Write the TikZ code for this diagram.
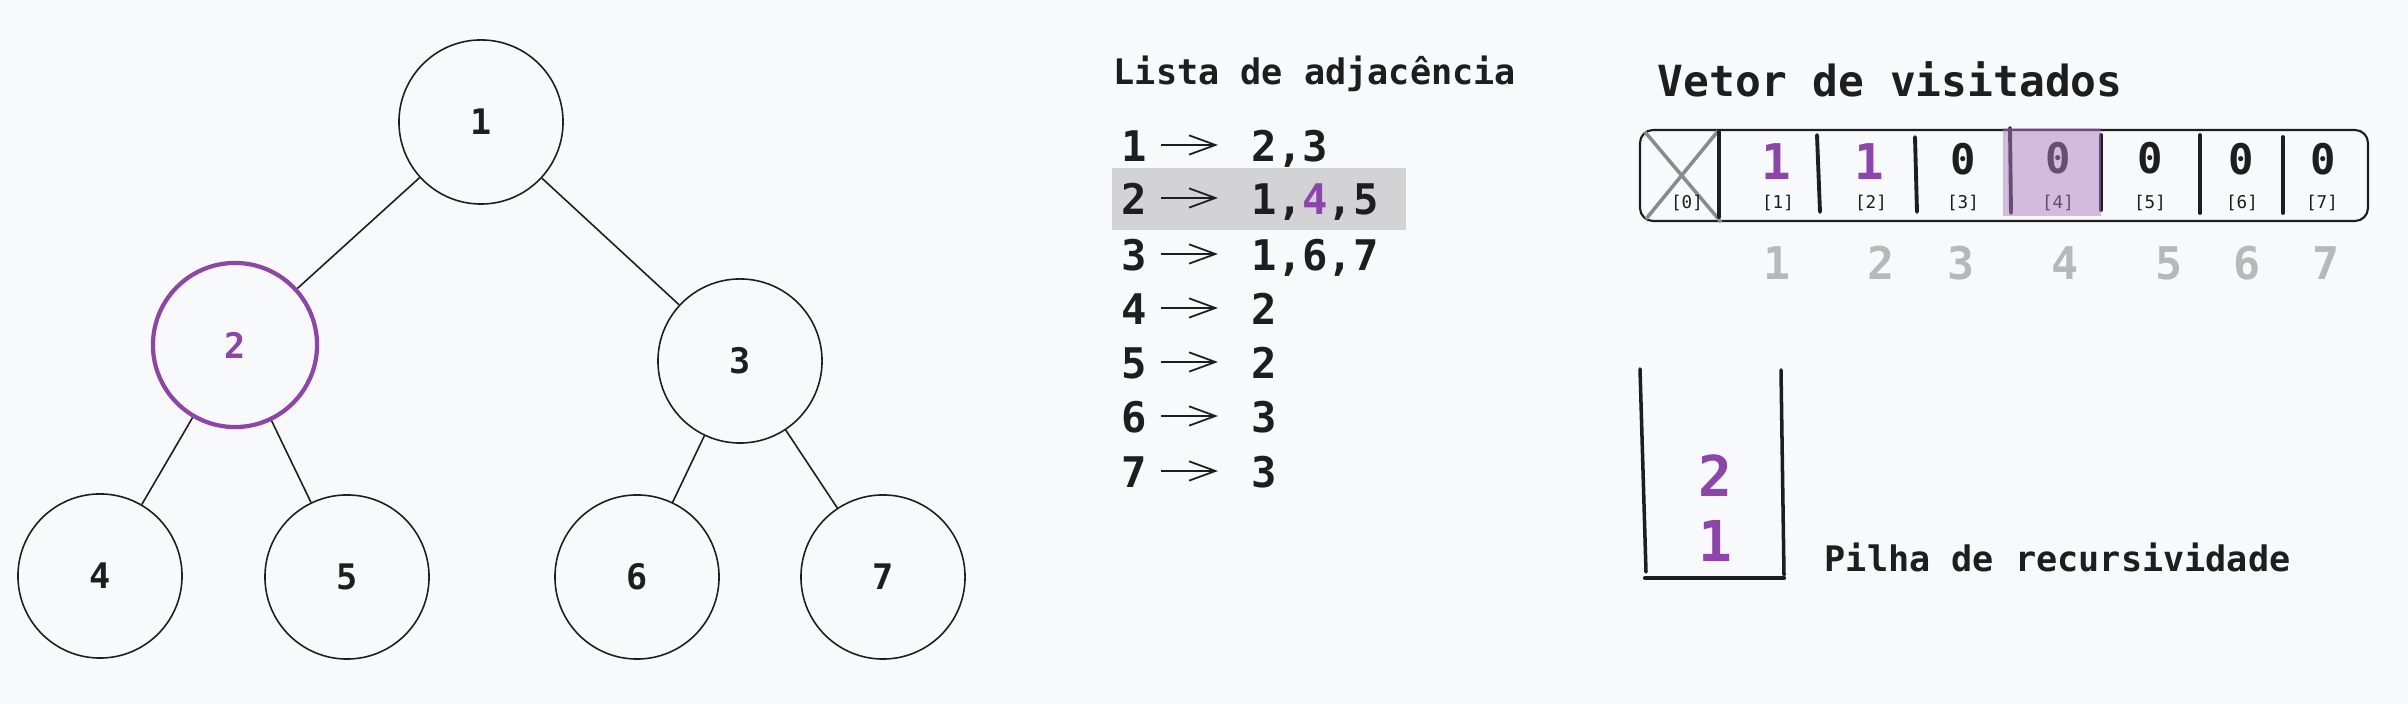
\documentclass[tikz,border=0pt]{standalone}
\usepackage{fontspec}
\setmainfont{DejaVu Sans Mono}
\usetikzlibrary{arrows.meta}

\definecolor{paper}{HTML}{F8F9FA}
\definecolor{ink}{HTML}{1E1E1E}
\definecolor{visitpurple}{HTML}{8E44AD}
\definecolor{cellpurple}{HTML}{B07CC6}
\definecolor{rowgray}{HTML}{D3D3D6}
\definecolor{idxgray}{HTML}{B8B8B8}
\definecolor{crossgray}{HTML}{8A8A8A}

\begin{document}
\begin{tikzpicture}[x=0.01cm, y=-0.01cm,
	vertex/.style={circle, draw=ink, line width=0.45pt, minimum size=1.64cm, inner sep=0pt, text=ink, font=\fontsize{10}{12}\selectfont\bfseries},
	visited/.style={vertex, draw=visitpurple, line width=1.2pt, text=visitpurple},
	edge/.style={draw=ink, line width=0.45pt},
	title/.style={anchor=base west, inner sep=0pt, text=ink},
	listkey/.style={inner sep=0pt, text height=9.6pt, text depth=0pt, text=ink, font=\fontsize{12}{14}\selectfont\bfseries},
	listval/.style={listkey, anchor=west},
	adjarrow/.style={draw=ink, line width=0.5pt, -{Straight Barb[length=7.5pt,width=5.5pt]}, shorten <=0.14cm, shorten >=0.33cm},
	cellval/.style={anchor=base, inner sep=0pt, text=ink, font=\fontsize{12}{14}\selectfont\bfseries},
	cellone/.style={cellval, text=visitpurple, font=\fontsize{14}{16}\selectfont\bfseries},
	cellidx/.style={anchor=base, inner sep=0pt, text=ink, font=\fontsize{5}{6}\selectfont},
	cellnum/.style={anchor=base, inner sep=0pt, text=idxgray, font=\fontsize{12.8}{15}\selectfont\bfseries},
	divider/.style={draw=ink, line width=1.1pt, line cap=round},
	stackitem/.style={anchor=base, inner sep=0pt, text=visitpurple, font=\fontsize{16}{18}\selectfont\bfseries}]

	\useasboundingbox (0,0) rectangle (2408,704);
	\fill[paper] (0,0) rectangle (2408,704);

	% tree
	\node[vertex] (n1) at (481,122) {1};
	\node[visited] (n2) at (235,345) {2};
	\node[vertex] (n3) at (740,361) {3};
	\node[vertex] (n4) at (100,576) {4};
	\node[vertex] (n5) at (347,577) {5};
	\node[vertex] (n6) at (637,577) {6};
	\node[vertex] (n7) at (883,577) {7};

	\draw[edge] (n1) -- (n2);
	\draw[edge] (n1) -- (n3);
	\draw[edge] (n2) -- (n4);
	\draw[edge] (n2) -- (n5);
	\draw[edge] (n3) -- (n6);
	\draw[edge] (n3) -- (n7);

	% adjacency list
	\node[title, font=\fontsize{10}{12}\selectfont\bfseries] (adjtitle) at (1113,85) {Lista de adjacência};
	\fill[rowgray] (1112,168) rectangle (1406,230);

	\node[listkey] (k1) at (1134,145) {1};
	\node[listkey] (k2) at (1134,198) {2};
	\node[listkey] (k3) at (1134,254) {3};
	\node[listkey] (k4) at (1134,308) {4};
	\node[listkey] (k5) at (1134,362) {5};
	\node[listkey] (k6) at (1134,416) {6};
	\node[listkey] (k7) at (1134,471) {7};

	\node[listval] (v1) at (1251,145) {2,3};
	\node[listval] (v2) at (1251,198) {1,{\color{visitpurple}4},5};
	\node[listval] (v3) at (1251,254) {1,6,7};
	\node[listval] (v4) at (1251,308) {2};
	\node[listval] (v5) at (1251,362) {2};
	\node[listval] (v6) at (1251,416) {3};
	\node[listval] (v7) at (1251,471) {3};

	\draw[adjarrow] (k1) -- (v1);
	\draw[adjarrow] (k2) -- (v2);
	\draw[adjarrow] (k3) -- (v3);
	\draw[adjarrow] (k4) -- (v4);
	\draw[adjarrow] (k5) -- (v5);
	\draw[adjarrow] (k6) -- (v6);
	\draw[adjarrow] (k7) -- (v7);

	% visited array
	\node[title, font=\fontsize{12.2}{14}\selectfont\bfseries] (vectitle) at (1657,97) {Vetor de visitados};
	\draw[ink, line width=0.6pt, rounded corners=0.13cm] (1640,130) rectangle (2368,221);

	\draw[crossgray, line width=1pt] (1645,132) -- (1721,222);
	\draw[crossgray, line width=1pt] (1646,219) -- (1718,131);

	\draw[divider] (1719,132) -- (1719,217);
	\draw[divider] (1817,135) -- (1820,212);
	\draw[divider] (1915,137) -- (1917,212);
	\draw[divider] (2010,128) -- (2011,213);
	\draw[divider] (2101,135) -- (2101,210);
	\draw[divider] (2200,135) -- (2200,213);
	\draw[divider] (2283,137) -- (2283,213);

	\node[cellone] (c1) at (1776,180) {1};
	\node[cellone] (c2) at (1869,180) {1};
	\node[cellval] (c3) at (1963,175) {0};
	\node[cellval] (c4) at (2058,174) {0};
	\node[cellval] (c5) at (2150,174) {0};
	\node[cellval] (c6) at (2241,175) {0};
	\node[cellval] (c7) at (2323,175) {0};

	\node[cellidx] (i0) at (1687,209) {[0]};
	\node[cellidx] (i1) at (1778,209) {[1]};
	\node[cellidx] (i2) at (1871,209) {[2]};
	\node[cellidx] (i3) at (1963,209) {[3]};
	\node[cellidx] (i4) at (2058,209) {[4]};
	\node[cellidx] (i5) at (2150,209) {[5]};
	\node[cellidx] (i6) at (2242,209) {[6]};
	\node[cellidx] (i7) at (2322,209) {[7]};

	\fill[cellpurple, fill opacity=0.5] (2003,128) rectangle (2101,216);

	\node[cellnum] (g1) at (1777,280) {1};
	\node[cellnum] (g2) at (1881,280) {2};
	\node[cellnum] (g3) at (1961,280) {3};
	\node[cellnum] (g4) at (2065,280) {4};
	\node[cellnum] (g5) at (2169,280) {5};
	\node[cellnum] (g6) at (2247,280) {6};
	\node[cellnum] (g7) at (2326,280) {7};

	% recursion stack
	\draw[ink, line width=1pt, line cap=round] (1640,369) -- (1646,572);
	\draw[ink, line width=1pt, line cap=round] (1781,370) -- (1784,575);
	\draw[ink, line width=1.2pt, line cap=round] (1645,578) -- (1784,578);

	\node[stackitem] (s2) at (1715,497) {2};
	\node[stackitem] (s1) at (1715,562) {1};
	\node[title, font=\fontsize{10}{12}\selectfont\bfseries] (stacktitle) at (1824,572) {Pilha de recursividade};
\end{tikzpicture}
\end{document}
